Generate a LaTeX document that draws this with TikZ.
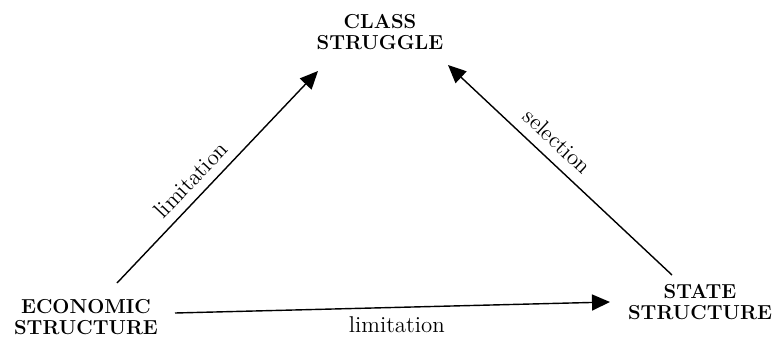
\documentclass[tikz,border=0pt]{standalone}
\usepackage{tikz}
\usetikzlibrary{arrows.meta}

\begin{document}
\begin{tikzpicture}[
						concept/.style={align=center, inner sep=0pt, font=\fontsize{11.5}{12}\selectfont\bfseries},
						arrow/.style={-{Triangle[length=0.36cm, width=0.32cm]}, line width=0.8pt},
						tag/.style={font=\fontsize{13}{15}\selectfont, inner sep=2pt}
					]
					\useasboundingbox (0,0) rectangle (15.5,6.92);

					\node[concept] (class) at (7.6,6.28) {CLASS\\STRUGGLE};
					\node[concept] (econ) at (1.72,0.58) {ECONOMIC\\STRUCTURE};
					\node[concept] (state) at (14.0,0.88) {STATE\\STRUCTURE};

					\draw[arrow] ([shift={(0.62,0.68)}]econ.center) -- node[tag, sloped, above=3pt, pos=0.43] {limitation} ([shift={(-1.24,-0.78)}]class.center);
					\draw[arrow] ([shift={(-0.56,0.54)}]state.center) -- node[tag, sloped, above=4pt, pos=0.57] {selection} ([shift={(1.36,-0.66)}]class.center);
					\draw[arrow] ([shift={(1.78,0.08)}]econ.center) -- node[tag, below=3pt, pos=0.51] {limitation} ([shift={(-1.8,0)}]state.center);
				\end{tikzpicture}
\end{document}
